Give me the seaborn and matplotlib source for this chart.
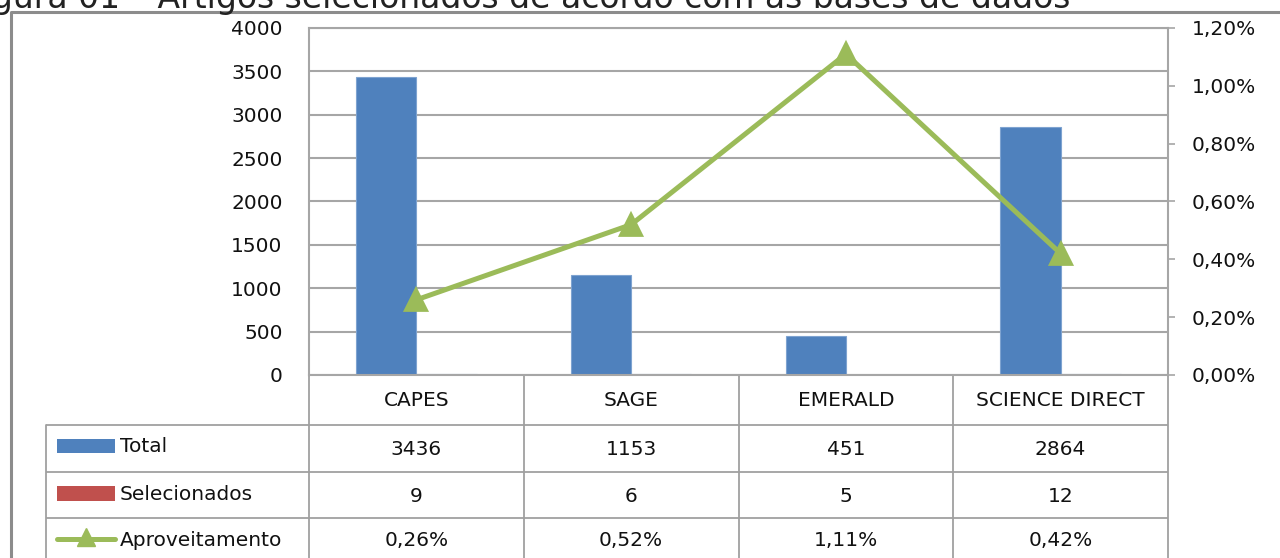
import matplotlib
matplotlib.use("Agg")
import matplotlib.pyplot as plt
import matplotlib.transforms as mtransforms
from matplotlib.ticker import FuncFormatter, MultipleLocator
import seaborn as sns
import pandas as pd

# ---------------- data ----------------
categories = ["CAPES", "SAGE", "EMERALD", "SCIENCE DIRECT"]
total = [3436, 1153, 451, 2864]
selecionados = [9, 6, 5, 12]
aproveitamento = [0.26, 0.52, 1.11, 0.42]  # percent
series_names = ["Total", "Selecionados", "Aproveitamento"]
title = "Figura 01 – Artigos selecionados de acordo com as bases de dados"

# ---------------- style ----------------
sns.set_theme(style="white")
plt.rcParams["font.family"] = ["DejaVu Sans"]
plt.rcParams["text.color"] = "#111111"

BLUE = "#4F81BD"
RED = "#C0504D"
GREEN = "#9BBB59"
GRID = "#A6A6A6"
FRAME = "#8C8C8C"
FS = 14.5

W, H = 1280, 558
fig = plt.figure(figsize=(W / 100, H / 100), dpi=100)
fig.patch.set_facecolor("white")

def px(x0, y0, x1, y1):
    return [x0 / W, 1 - y1 / H, (x1 - x0) / W, (y1 - y0) / H]

ax = fig.add_axes(px(309, 28, 1168, 375))

df = pd.DataFrame({
    "categoria": categories * 2,
    "serie": ["Total"] * 4 + ["Selecionados"] * 4,
    "valor": total + selecionados,
})
sns.barplot(data=df, x="categoria", y="valor", hue="serie", order=categories,
            hue_order=["Total", "Selecionados"],
            palette={"Total": BLUE, "Selecionados": RED}, saturation=1,
            width=0.56, gap=0, legend=False, ax=ax,
            edgecolor="#7EA3D0", linewidth=0.8)
ax.set_xlim(-0.5, len(categories) - 0.5)
ax.set_ylim(0, 4000)
ax.yaxis.set_major_locator(MultipleLocator(500))
ax.set_axisbelow(True)
ax.grid(axis="y", color=GRID, linewidth=1.5)
ax.grid(axis="x", visible=False)
ax.set_xlabel("")
ax.set_ylabel("")
ax.tick_params(axis="x", length=0, labelbottom=False)
ax.tick_params(axis="y", length=0, pad=19, labelsize=FS, labelcolor="#111111")
for s in ax.spines.values():
    s.set_color(GRID)
    s.set_linewidth(1.5)

ax2 = ax.twinx()
ldf = pd.DataFrame({"categoria": categories, "valor": aproveitamento})
sns.pointplot(data=ldf, x="categoria", y="valor", order=categories,
              color=GREEN, markers="^", errorbar=None, ax=ax2,
              linewidth=3.6, markersize=15)
ax2.set_xlim(-0.5, len(categories) - 0.5)
ax2.set_ylim(0, 1.2)
ax2.yaxis.set_major_locator(MultipleLocator(0.2))
ax2.yaxis.set_major_formatter(FuncFormatter(lambda v, p: f"{v:.2f}%".replace(".", ",")))
ax2.set_xlabel("")
ax2.set_ylabel("")
ax2.grid(False)
ax2.tick_params(axis="x", length=0, labelbottom=False)
ax2.tick_params(axis="y", right=True, direction="out", length=5, width=1.2,
                color=GRID, pad=12, labelsize=FS, labelcolor="#111111")
for s in ax2.spines.values():
    s.set_visible(False)

# ---------------- data table ----------------
tab = fig.add_axes([0, 0, 1, 1], zorder=-1)
tab.set_xlim(0, W)
tab.set_ylim(H, 0)
tab.axis("off")
tr = mtransforms.blended_transform_factory(ax.transData, tab.transData)

LC = "#A0A0A0"
LW = 1.3
row_y = [375, 425, 472, 518, 565]
# horizontal lines
for y in row_y[1:4]:
    tab.plot([46, 1168], [y, y], color=LC, lw=LW, solid_capstyle="butt")
# vertical lines (category boundaries)
n = len(categories)
for i in range(n + 1):
    tab.plot([i - 0.5, i - 0.5], [375, 565], color=LC, lw=LW, transform=tr)
tab.plot([46, 46], [425, 565], color=LC, lw=LW)

# header & values
rows = [total, selecionados, [f"{v:.2f}%".replace(".", ",") for v in aproveitamento]]
for i, cat in enumerate(categories):
    tab.text(i, 400, cat, ha="center", va="center", fontsize=FS, transform=tr)
    for r, vals in enumerate(rows):
        yc = (row_y[r + 1] + row_y[r + 2]) / 2 + 1
        if r == 2:
            yc = 541
        tab.text(i, yc, str(vals[i]), ha="center", va="center", fontsize=FS, transform=tr)

# legend keys
tab.add_patch(plt.Rectangle((57, 439), 58, 14, color=BLUE, lw=0))
tab.add_patch(plt.Rectangle((57, 486), 58, 15, color=RED, lw=0))
tab.plot([57, 115], [539, 539], color=GREEN, lw=3.6, solid_capstyle="round")
tab.plot([86], [537], marker="^", color=GREEN, markersize=13)
for name, yc in zip(series_names, [447, 494, 541]):
    tab.text(120, yc, name, ha="left", va="center", fontsize=FS)

# outer frame
tab.plot([11, 11, 1290], [570, 12, 12], color=FRAME, lw=2.2, clip_on=False)

# title (partially cut off at the top, as in the reference)
fig.text(-34 / W, 1 - 8 / H, title, ha="left", va="baseline", fontsize=23.8,
         color="#222222")

fig.savefig("out.png", dpi=100)
